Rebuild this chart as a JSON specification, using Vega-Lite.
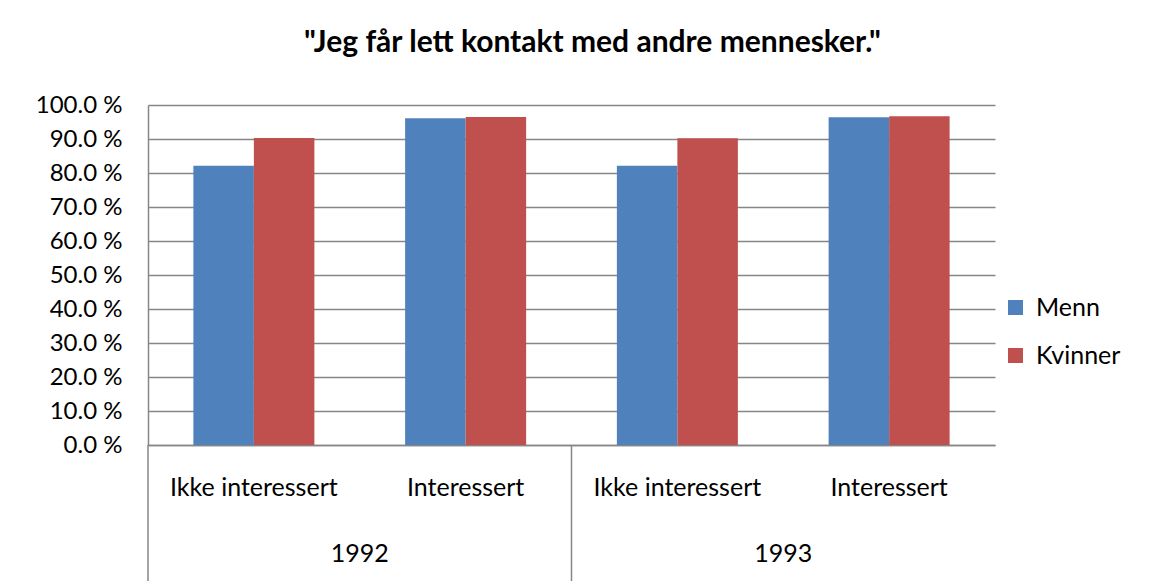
{
  "$schema": "https://vega.github.io/schema/vega-lite/v6.json",
  "autosize": "none",
  "width": 847,
  "height": 340,
  "padding": {"left": 148, "top": 105, "right": 162, "bottom": 136},
  "background": "white",
  "config": {
    "font": "Lato",
    "view": {"stroke": null}
  },
  "title": {
    "text": "\"Jeg får lett kontakt med andre mennesker.\"",
    "font": "Lato",
    "fontSize": 30,
    "fontWeight": "bold",
    "color": "#000000",
    "anchor": "middle",
    "dx": 21,
    "offset": 35
  },
  "data": {
    "values": [
      {"year": "1992", "interest": "Ikke interessert", "cat": "1992|Ikke interessert", "series": "Menn", "value": 0.821},
      {"year": "1992", "interest": "Ikke interessert", "cat": "1992|Ikke interessert", "series": "Kvinner", "value": 0.903},
      {"year": "1992", "interest": "Interessert", "cat": "1992|Interessert", "series": "Menn", "value": 0.961},
      {"year": "1992", "interest": "Interessert", "cat": "1992|Interessert", "series": "Kvinner", "value": 0.965},
      {"year": "1993", "interest": "Ikke interessert", "cat": "1993|Ikke interessert", "series": "Menn", "value": 0.821},
      {"year": "1993", "interest": "Ikke interessert", "cat": "1993|Ikke interessert", "series": "Kvinner", "value": 0.902},
      {"year": "1993", "interest": "Interessert", "cat": "1993|Interessert", "series": "Menn", "value": 0.964},
      {"year": "1993", "interest": "Interessert", "cat": "1993|Interessert", "series": "Kvinner", "value": 0.967}
    ]
  },
  "layer": [
    {
      "mark": {"type": "bar"},
      "encoding": {
        "x": {
          "field": "cat",
          "type": "nominal",
          "sort": ["1992|Ikke interessert", "1992|Interessert", "1993|Ikke interessert", "1993|Interessert"],
          "scale": {"paddingInner": 0, "paddingOuter": 0},
          "axis": {
            "title": null,
            "labelExpr": "split(datum.value, '|')[1]",
            "labelAngle": 0,
            "labelFont": "Lato",
            "labelFontSize": 25,
            "labelColor": "#000000",
            "labelPadding": 30,
            "labelOverlap": false,
            "ticks": false,
            "domainColor": "#868686",
            "domainWidth": 1.5,
            "grid": false
          }
        },
        "xOffset": {
          "field": "series",
          "type": "nominal",
          "sort": ["Menn", "Kvinner"],
          "scale": {"paddingInner": 0, "paddingOuter": 0.75}
        },
        "y": {
          "field": "value",
          "type": "quantitative",
          "scale": {"domain": [0, 1], "nice": false},
          "axis": {
            "title": null,
            "values": [0, 0.1, 0.2, 0.3, 0.4, 0.5, 0.6, 0.7, 0.8, 0.9, 1.0],
            "tickCount": 20,
            "labelExpr": "format(datum.value * 100, '.1f') + ' %'",
            "labelFont": "Lato",
            "labelFontSize": 24,
            "labelColor": "#000000",
            "labelPadding": 26,
            "labelOverlap": false,
            "labelBound": false,
            "labelFlush": false,
            "ticks": false,
            "domainColor": "#868686",
            "domainWidth": 1.5,
            "gridColor": "#868686",
            "gridWidth": 1.5
          }
        },
        "color": {
          "field": "series",
          "type": "nominal",
          "sort": ["Menn", "Kvinner"],
          "scale": {"domain": ["Menn", "Kvinner"], "range": ["#4F81BD", "#C0504D"]},
          "legend": {
            "title": null,
            "orient": "none",
            "legendX": 855,
            "legendY": 190,
            "symbolType": "square",
            "symbolSize": 225,
            "symbolStrokeWidth": 0,
            "labelFont": "Lato",
            "labelFontSize": 25,
            "labelColor": "#000000",
            "rowPadding": 22,
            "labelOffset": 8
          }
        }
      }
    },
    {
      "transform": [{"filter": "datum.series == 'Menn' && datum.interest == 'Ikke interessert'"}],
      "mark": {"type": "rule", "color": "#868686", "strokeWidth": 1.5},
      "encoding": {
        "x": {"field": "cat", "type": "nominal", "bandPosition": 0},
        "y": {"datum": 0, "type": "quantitative"},
        "y2": {"datum": -0.4}
      }
    },
    {
      "transform": [{"filter": "datum.series == 'Menn' && datum.interest == 'Interessert'"}],
      "mark": {"type": "text", "font": "Lato", "fontSize": 25, "color": "#000000", "baseline": "middle", "align": "center"},
      "encoding": {
        "x": {"field": "cat", "type": "nominal", "bandPosition": 0},
        "y": {"datum": -0.32, "type": "quantitative"},
        "text": {"field": "year"}
      }
    }
  ]
}
